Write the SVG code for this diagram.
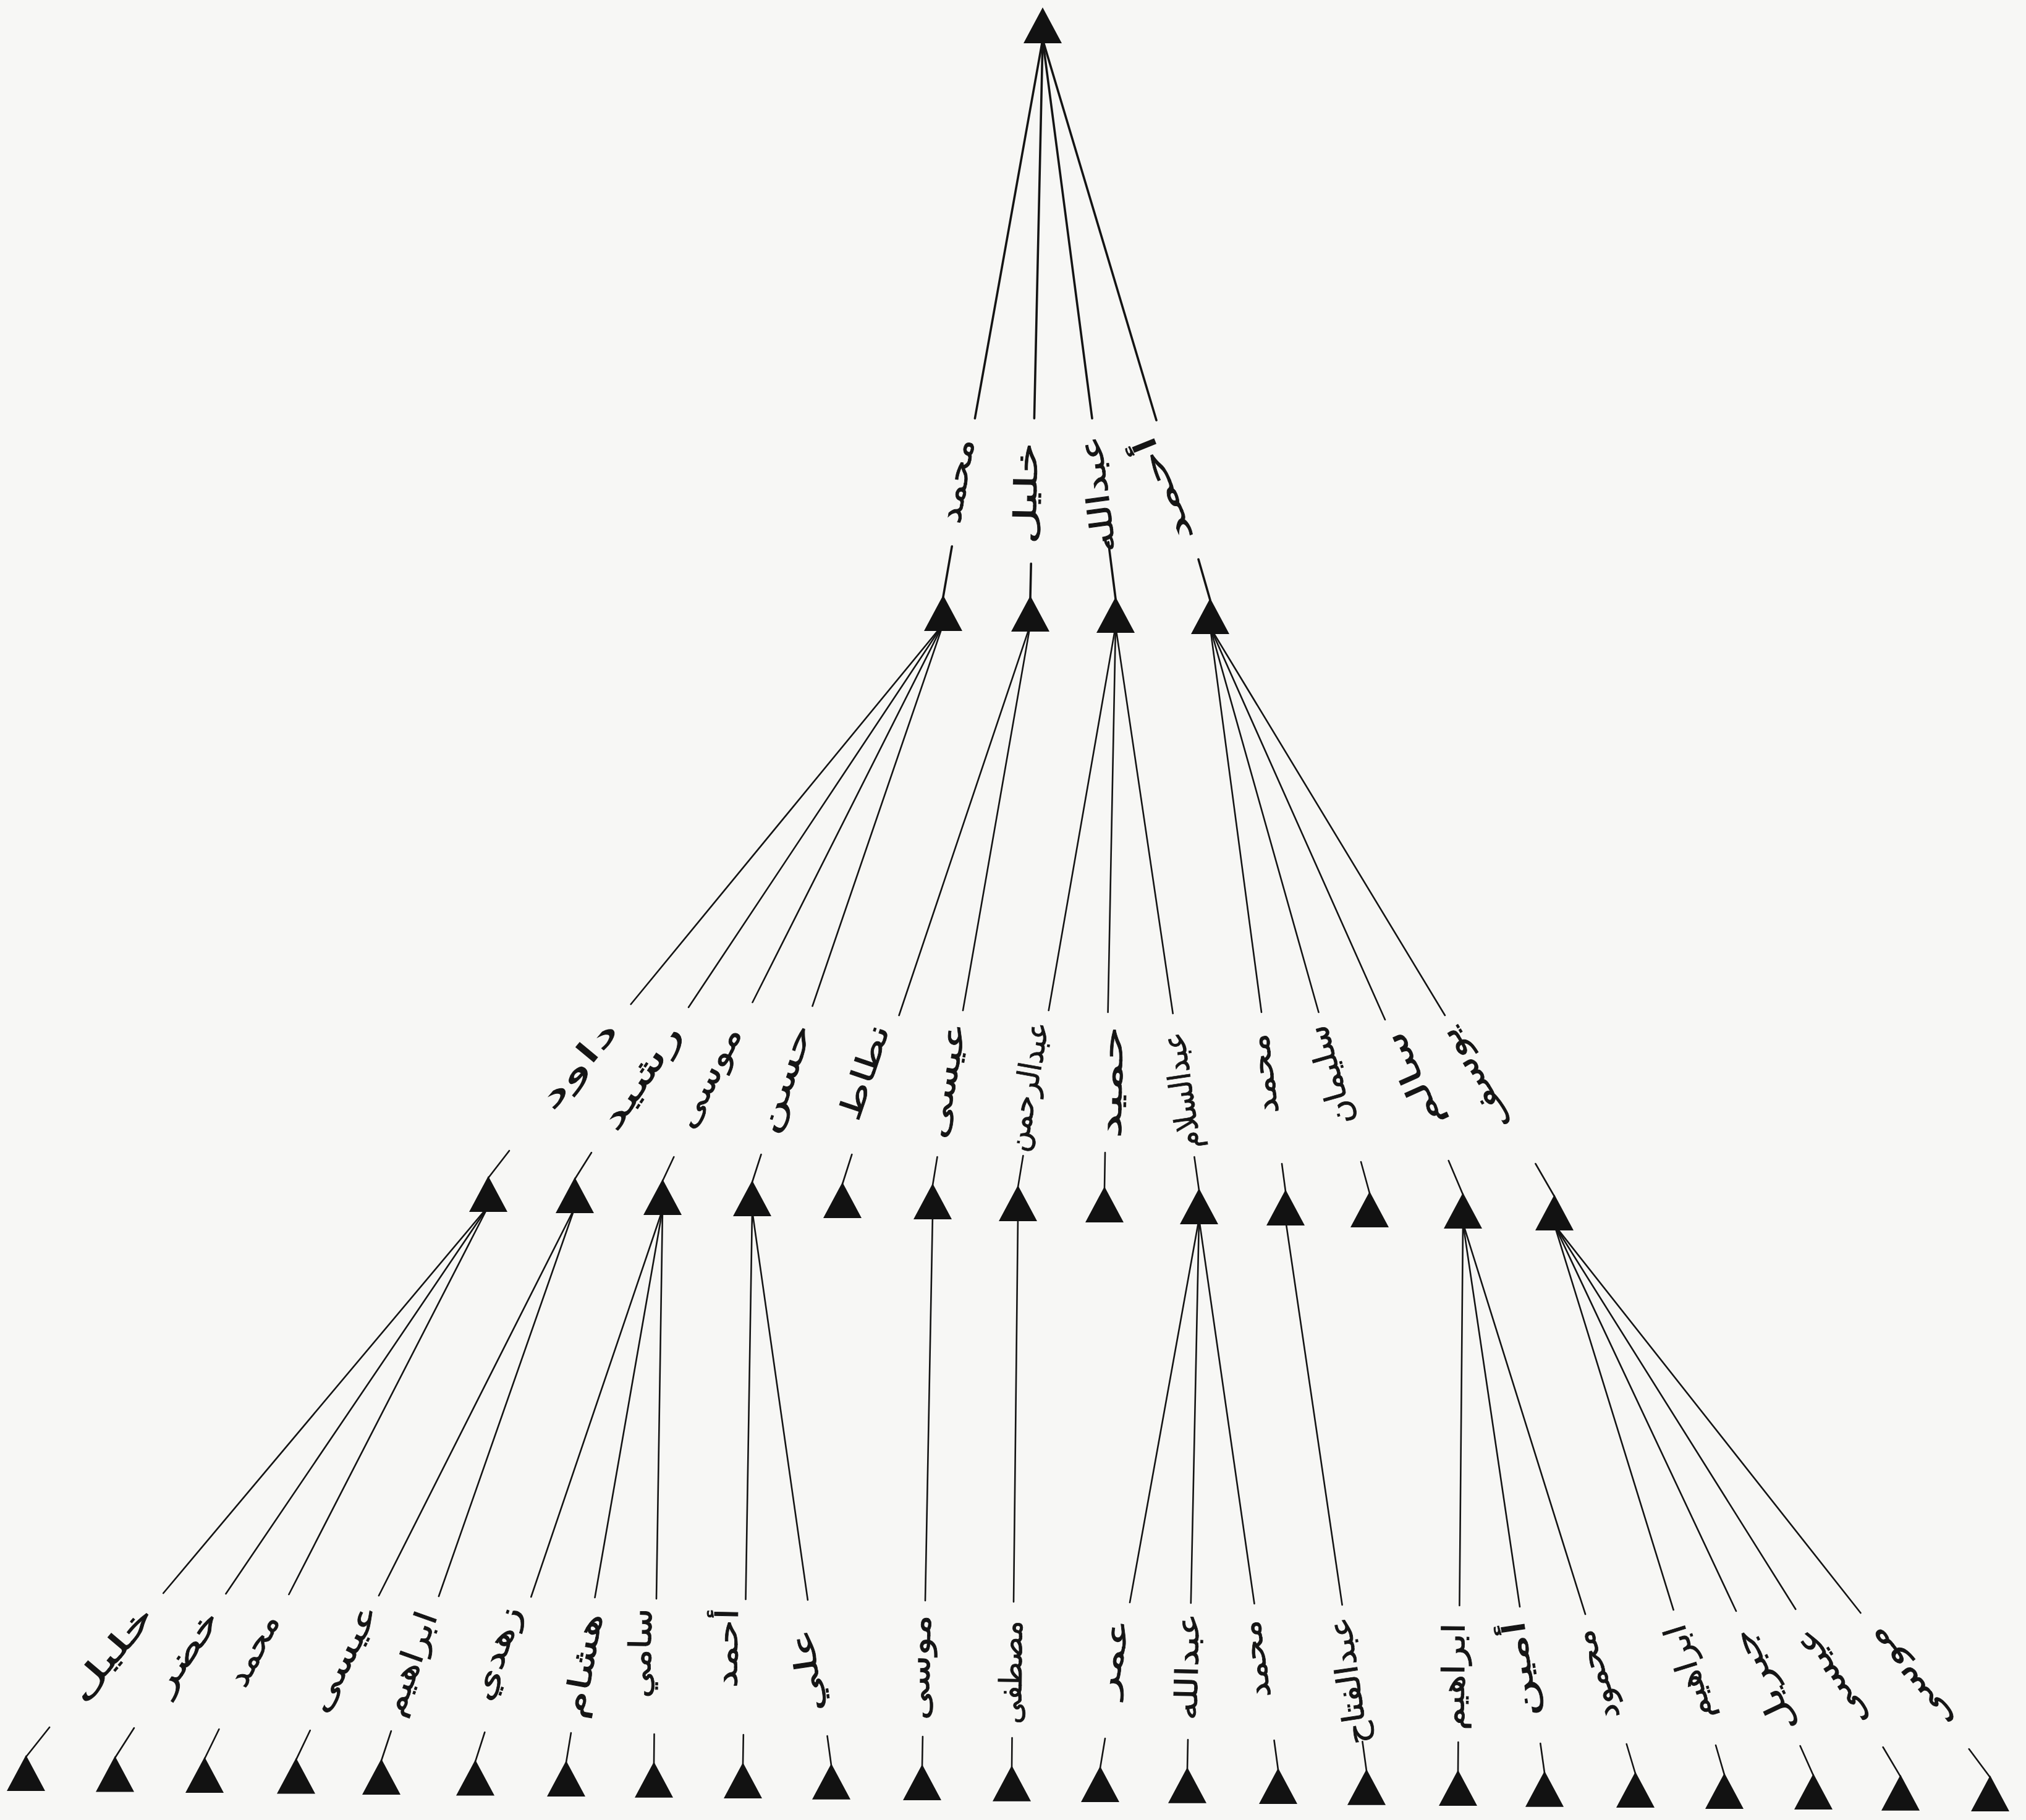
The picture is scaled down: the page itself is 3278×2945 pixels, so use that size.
<svg xmlns="http://www.w3.org/2000/svg" xmlns:xlink="http://www.w3.org/1999/xlink" width="3278" height="2945" viewBox="0 0 3278 2945">
<style>
.bg{fill:#f7f7f5}
.edge line{stroke:#141414;stroke-width:2.6;stroke-linecap:round}
.e0 line{stroke-width:3.6}
.node use{fill:#121212}
.lbl{font-family:"DejaVu Sans",sans-serif;font-size:50px;fill:#151515;stroke:#151515;stroke-width:0.8;text-anchor:middle;dominant-baseline:central}
</style>
<defs>
<path id="tri" d="M0,0 L31,58 L-31,58 Z"/>
</defs>
<rect class="bg" x="0" y="0" width="3278" height="2945"/>

<g id="connectors">
<g class="edge e0">
<line x1="1687" y1="64" x2="1577.4" y2="677"/><line x1="1540.2" y1="884" x2="1526" y2="966"/>
<line x1="1687" y1="64" x2="1673.4" y2="677"/><line x1="1668.2" y1="912" x2="1667" y2="967"/>
<line x1="1687" y1="64" x2="1767" y2="677"/><line x1="1793.3" y1="877" x2="1805" y2="969"/>
<line x1="1687" y1="64" x2="1871" y2="680"/><line x1="1939" y1="905" x2="1958" y2="971"/>
</g>
<g class="edge e1">
<line x1="1526" y1="1010" x2="1020.7" y2="1625"/><line x1="824" y1="1862" x2="790" y2="1906"/>
<line x1="1526" y1="1010" x2="1114" y2="1630"/><line x1="957" y1="1865" x2="930" y2="1908"/>
<line x1="1526" y1="1010" x2="1217.5" y2="1622"/><line x1="1090.3" y1="1872" x2="1072" y2="1911"/>
<line x1="1526" y1="1010" x2="1314.5" y2="1628"/><line x1="1231.5" y1="1868" x2="1217" y2="1913"/>
<line x1="1667" y1="1011" x2="1454.6" y2="1643"/><line x1="1378.3" y1="1868" x2="1363" y2="1916"/>
<line x1="1667" y1="1011" x2="1558" y2="1635"/><line x1="1516.5" y1="1872" x2="1509" y2="1918"/>
<line x1="1805" y1="1013" x2="1696.7" y2="1635"/><line x1="1655.4" y1="1870" x2="1647" y2="1921"/>
<line x1="1805" y1="1013" x2="1792.6" y2="1638"/><line x1="1788" y1="1865" x2="1787" y2="1923"/>
<line x1="1805" y1="1013" x2="1897.7" y2="1640"/><line x1="1932.4" y1="1872" x2="1940" y2="1926"/>
<line x1="1958" y1="1015" x2="2041" y2="1638"/><line x1="2074" y1="1883" x2="2080" y2="1928"/>
<line x1="1958" y1="1015" x2="2133.5" y2="1638"/><line x1="2202" y1="1880" x2="2216" y2="1931"/>
<line x1="1958" y1="1015" x2="2241" y2="1650"/><line x1="2343.7" y1="1878" x2="2367" y2="1933"/>
<line x1="1958" y1="1015" x2="2337.9" y2="1643"/><line x1="2484.4" y1="1883" x2="2515" y2="1936"/>
</g>
<g class="edge e2">
<line x1="790" y1="1952" x2="264.2" y2="2578"/><line x1="80.1" y1="2795" x2="42" y2="2843"/>
<line x1="790" y1="1952" x2="365.4" y2="2579"/><line x1="217" y1="2796" x2="186" y2="2844.5"/>
<line x1="790" y1="1952" x2="467.4" y2="2580"/><line x1="354.4" y1="2798" x2="331" y2="2846"/>
<line x1="930" y1="1954" x2="612.9" y2="2582"/><line x1="501.8" y1="2800" x2="479" y2="2847.6"/>
<line x1="930" y1="1954" x2="709.9" y2="2583"/><line x1="632.9" y1="2801" x2="617" y2="2849"/>
<line x1="1072" y1="1957" x2="859.3" y2="2584"/><line x1="784.3" y1="2803" x2="769" y2="2850.6"/>
<line x1="1072" y1="1957" x2="962.5" y2="2585"/><line x1="923.9" y1="2804" x2="916" y2="2852"/>
<line x1="1072" y1="1957" x2="1062" y2="2587"/><line x1="1058.5" y1="2806" x2="1058" y2="2853.7"/>
<line x1="1217" y1="1959" x2="1206.5" y2="2588"/><line x1="1202.8" y1="2807" x2="1202" y2="2855"/>
<line x1="1217" y1="1959" x2="1306.9" y2="2589"/><line x1="1338.5" y1="2809" x2="1345" y2="2856.7"/>
<line x1="1509" y1="1964" x2="1497" y2="2590"/><line x1="1492.9" y1="2810" x2="1492" y2="2858"/>
<line x1="1647" y1="1967" x2="1640" y2="2592"/><line x1="1637.5" y1="2812" x2="1637" y2="2859.7"/>
<line x1="1940" y1="1972" x2="1828" y2="2593"/><line x1="1788" y1="2813" x2="1780" y2="2861"/>
<line x1="1940" y1="1972" x2="1926.8" y2="2594"/><line x1="1922" y1="2815" x2="1921" y2="2862.7"/>
<line x1="1940" y1="1972" x2="2029.5" y2="2595"/><line x1="2061.5" y1="2816" x2="2068" y2="2864"/>
<line x1="2080" y1="1974" x2="2171.6" y2="2597"/><line x1="2204.4" y1="2818" x2="2211" y2="2865.8"/>
<line x1="2367" y1="1979" x2="2361.4" y2="2598"/><line x1="2359.4" y1="2819" x2="2359" y2="2867"/>
<line x1="2367" y1="1979" x2="2459" y2="2600"/><line x1="2492.3" y1="2821" x2="2499" y2="2868.8"/>
<line x1="2367" y1="1979" x2="2565" y2="2612"/><line x1="2631.7" y1="2822" x2="2646" y2="2870"/>
<line x1="2515" y1="1982" x2="2707.6" y2="2605"/><line x1="2776" y1="2824" x2="2790" y2="2871.9"/>
<line x1="2515" y1="1982" x2="2809" y2="2607"/><line x1="2912.6" y1="2825" x2="2934" y2="2873"/>
<line x1="2515" y1="1982" x2="2905.3" y2="2604"/><line x1="3046.6" y1="2827" x2="3075" y2="2874.8"/>
<line x1="2515" y1="1982" x2="3010.5" y2="2610"/><line x1="3185.7" y1="2830" x2="3220" y2="2876"/>
</g>
</g>

<g id="n-root" class="node"><use href="#tri" x="1687" y="12"/></g>

<g id="n1-1" class="node"><use href="#tri" x="1526" y="963"/><text class="lbl" transform="translate(1548,778) rotate(-80)" textLength="138" lengthAdjust="spacingAndGlyphs">محمد</text></g>
<g id="n1-2" class="node"><use href="#tri" x="1667" y="964"/><text class="lbl" transform="translate(1660,798) rotate(-88.7)" textLength="165" lengthAdjust="spacingAndGlyphs">خليل</text></g>
<g id="n1-3" class="node"><use href="#tri" x="1805" y="966"/><text class="lbl" transform="translate(1776,800) rotate(-97.5)" textLength="190" lengthAdjust="spacingAndGlyphs">عبدالله</text></g>
<g id="n1-4" class="node"><use href="#tri" x="1958" y="968"/><text class="lbl" transform="translate(1882,792) rotate(-112)" textLength="180" lengthAdjust="spacingAndGlyphs">أحمد</text></g>

<g id="n2-1" class="node"><use href="#tri" x="790" y="1903"/><text class="lbl" transform="translate(935,1723) rotate(-50.3)" textLength="170" lengthAdjust="spacingAndGlyphs">داود</text></g>
<g id="n2-2" class="node"><use href="#tri" x="930" y="1905"/><text class="lbl" transform="translate(1037,1743) rotate(-56.2)" textLength="195" lengthAdjust="spacingAndGlyphs">رشيد</text></g>
<g id="n2-3" class="node"><use href="#tri" x="1072" y="1908"/><text class="lbl" transform="translate(1146,1743) rotate(-63)" textLength="178" lengthAdjust="spacingAndGlyphs">موسى</text></g>
<g id="n2-4" class="node"><use href="#tri" x="1217" y="1910"/><text class="lbl" transform="translate(1269,1745) rotate(-70.9)" textLength="184" lengthAdjust="spacingAndGlyphs">حسن</text></g>
<g id="n2-5" class="node"><use href="#tri" x="1363" y="1913"/><text class="lbl" transform="translate(1398,1735) rotate(-71.3)" textLength="160" lengthAdjust="spacingAndGlyphs">نطاط</text></g>
<g id="n2-6" class="node"><use href="#tri" x="1509" y="1915"/><text class="lbl" transform="translate(1530,1748) rotate(-80)" textLength="190" lengthAdjust="spacingAndGlyphs">عيسى</text></g>
<g id="n2-7" class="node"><use href="#tri" x="1647" y="1918"/><text class="lbl" transform="translate(1662,1758) rotate(-80)" textLength="212" lengthAdjust="spacingAndGlyphs">عبدالرحمن</text></g>
<g id="n2-8" class="node"><use href="#tri" x="1787" y="1920"/><text class="lbl" transform="translate(1798,1751) rotate(-88.9)" textLength="182" lengthAdjust="spacingAndGlyphs">حميد</text></g>
<g id="n2-9" class="node"><use href="#tri" x="1940" y="1923"/><text class="lbl" transform="translate(1912,1765) rotate(-98.5)" textLength="190" lengthAdjust="spacingAndGlyphs">عبدالسلام</text></g>
<g id="n2-10" class="node"><use href="#tri" x="2080" y="1925"/><text class="lbl" transform="translate(2043,1738) rotate(-97.7)" textLength="130" lengthAdjust="spacingAndGlyphs">محمد</text></g>
<g id="n2-11" class="node"><use href="#tri" x="2216" y="1928"/><text class="lbl" transform="translate(2152,1740) rotate(-105.9)" textLength="165" lengthAdjust="spacingAndGlyphs">سليمان</text></g>
<g id="n2-12" class="node"><use href="#tri" x="2367" y="1930"/><text class="lbl" transform="translate(2286,1748) rotate(-114.2)" textLength="165" lengthAdjust="spacingAndGlyphs">سالم</text></g>
<g id="n2-13" class="node"><use href="#tri" x="2515" y="1933"/><text class="lbl" transform="translate(2385,1747) rotate(-121.4)" textLength="185" lengthAdjust="spacingAndGlyphs">يوسف</text></g>

<g id="n3-1" class="node"><use href="#tri" x="42" y="2840"/><text class="lbl" transform="translate(180,2675) rotate(-49.7)" textLength="185" lengthAdjust="spacingAndGlyphs">خليل</text></g>
<g id="n3-2" class="node"><use href="#tri" x="186" y="2841.5"/><text class="lbl" transform="translate(301,2673) rotate(-55.6)" textLength="152" lengthAdjust="spacingAndGlyphs">خضر</text></g>
<g id="n3-3" class="node"><use href="#tri" x="331" y="2843"/><text class="lbl" transform="translate(410,2670) rotate(-62.6)" textLength="125" lengthAdjust="spacingAndGlyphs">محمد</text></g>
<g id="n3-4" class="node"><use href="#tri" x="479" y="2844.6"/><text class="lbl" transform="translate(555,2683) rotate(-63)" textLength="190" lengthAdjust="spacingAndGlyphs">عيسى</text></g>
<g id="n3-5" class="node"><use href="#tri" x="617" y="2846"/><text class="lbl" transform="translate(663,2692) rotate(-70.5)" textLength="175" lengthAdjust="spacingAndGlyphs">ابراهيم</text></g>
<g id="n3-6" class="node"><use href="#tri" x="769" y="2847.6"/><text class="lbl" transform="translate(803,2675) rotate(-71.1)" textLength="158" lengthAdjust="spacingAndGlyphs">زهدي</text></g>
<g id="n3-7" class="node"><use href="#tri" x="916" y="2849"/><text class="lbl" transform="translate(943,2695) rotate(-80)" textLength="172" lengthAdjust="spacingAndGlyphs">هشام</text></g>
<g id="n3-8" class="node"><use href="#tri" x="1058" y="2850.7"/><text class="lbl" transform="translate(1036,2675) rotate(-89.1)" textLength="145" lengthAdjust="spacingAndGlyphs">سامي</text></g>
<g id="n3-9" class="node"><use href="#tri" x="1202" y="2852"/><text class="lbl" transform="translate(1176,2667) rotate(-89)" textLength="128" lengthAdjust="spacingAndGlyphs">أحمد</text></g>
<g id="n3-10" class="node"><use href="#tri" x="1345" y="2853.7"/><text class="lbl" transform="translate(1306,2703) rotate(-98.2)" textLength="135" lengthAdjust="spacingAndGlyphs">علي</text></g>
<g id="n3-11" class="node"><use href="#tri" x="1492" y="2855"/><text class="lbl" transform="translate(1487,2698) rotate(-88.9)" textLength="170" lengthAdjust="spacingAndGlyphs">موسى</text></g>
<g id="n3-12" class="node"><use href="#tri" x="1637" y="2856.7"/><text class="lbl" transform="translate(1636,2706) rotate(-89.4)" textLength="167" lengthAdjust="spacingAndGlyphs">مصطفى</text></g>
<g id="n3-13" class="node"><use href="#tri" x="1780" y="2858"/><text class="lbl" transform="translate(1800,2683) rotate(-79.7)" textLength="128" lengthAdjust="spacingAndGlyphs">عمر</text></g>
<g id="n3-14" class="node"><use href="#tri" x="1921" y="2859.7"/><text class="lbl" transform="translate(1921,2697) rotate(-88.8)" textLength="173" lengthAdjust="spacingAndGlyphs">عبدالله</text></g>
<g id="n3-15" class="node"><use href="#tri" x="2068" y="2861"/><text class="lbl" transform="translate(2030,2685) rotate(-98.2)" textLength="126" lengthAdjust="spacingAndGlyphs">محمد</text></g>
<g id="n3-16" class="node"><use href="#tri" x="2211" y="2862.8"/><text class="lbl" transform="translate(2182,2720) rotate(-98.4)" textLength="208" lengthAdjust="spacingAndGlyphs">عبدالفتاح</text></g>
<g id="n3-17" class="node"><use href="#tri" x="2359" y="2864"/><text class="lbl" transform="translate(2352,2713) rotate(-89.5)" textLength="173" lengthAdjust="spacingAndGlyphs">ابراهيم</text></g>
<g id="n3-18" class="node"><use href="#tri" x="2499" y="2865.8"/><text class="lbl" transform="translate(2460,2701) rotate(-98.5)" textLength="158" lengthAdjust="spacingAndGlyphs">أمين</text></g>
<g id="n3-19" class="node"><use href="#tri" x="2646" y="2867"/><text class="lbl" transform="translate(2582,2711) rotate(-107.6)" textLength="150" lengthAdjust="spacingAndGlyphs">محمود</text></g>
<g id="n3-20" class="node"><use href="#tri" x="2790" y="2868.9"/><text class="lbl" transform="translate(2732,2707) rotate(-107.3)" textLength="160" lengthAdjust="spacingAndGlyphs">ابراهيم</text></g>
<g id="n3-21" class="node"><use href="#tri" x="2934" y="2870"/><text class="lbl" transform="translate(2853,2721) rotate(-115.4)" textLength="180" lengthAdjust="spacingAndGlyphs">جبريل</text></g>
<g id="n3-22" class="node"><use href="#tri" x="3075" y="2871.8"/><text class="lbl" transform="translate(2962,2716) rotate(-122.4)" textLength="180" lengthAdjust="spacingAndGlyphs">عيسى</text></g>
<g id="n3-23" class="node"><use href="#tri" x="3220" y="2873"/><text class="lbl" transform="translate(3088,2718) rotate(-128.5)" textLength="198" lengthAdjust="spacingAndGlyphs">موسى</text></g>
</svg>
